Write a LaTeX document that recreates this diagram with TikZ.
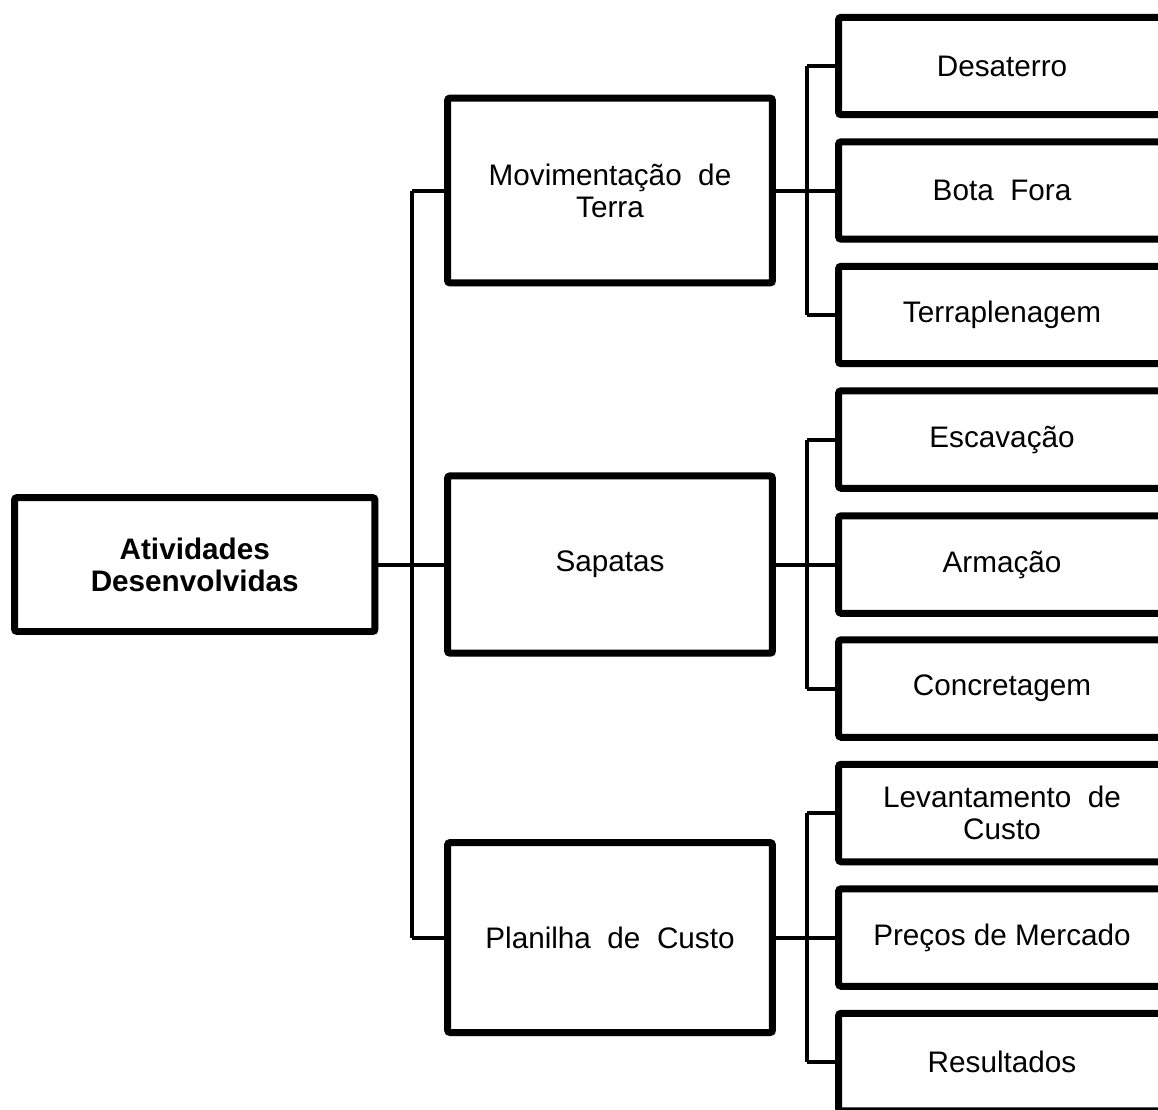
\documentclass[tikz,border=0pt]{standalone}
\usepackage{fontspec}
\setmainfont{Liberation Sans}
\usetikzlibrary{shadows}

\begin{document}
\begin{tikzpicture}[x=0.02cm, y=-0.02cm,
    box/.style={draw, line width=0.14cm, align=center, fill=white, inner sep=0pt, rounded corners=1.5pt,
                font=\fontsize{16.9}{18.3}\selectfont,
                drop shadow={opacity=0.25, shadow xshift=0.07cm, shadow yshift=-0.07cm}},
    root/.style={box, minimum width=7.21cm, minimum height=2.68cm, font=\fontsize{16.9}{18.3}\selectfont\bfseries},
    mid/.style={box, minimum width=6.5cm},
    leaf/.style={box, minimum width=6.54cm, minimum height=1.95cm},
    link/.style={line width=0.08cm}]
    \useasboundingbox (0,0) rectangle (1158,1109);
    \clip (0,0) rectangle (1158,1109);

    \coordinate (T) at (412,0);
    \coordinate (S) at (807,0);

    \draw[link] (T |- 0,190.5) -- (T |- 0,937.5);
    \draw[link] (S |- 0,66)    -- (S |- 0,315);
    \draw[link] (S |- 0,439.5) -- (S |- 0,688.5);
    \draw[link] (S |- 0,813)   -- (S |- 0,1062);

    \node[root]                      (R)  at (194.75, 564.5)  {Atividades \\ Desenvolvidas};

    \node[mid, minimum height=3.7cm] (M1) at (610, 190.5)     {Movimentação~~de \\ Terra};
    \node[mid, minimum height=3.55cm] (M2) at (610, 564.5)    {Sapatas};
    \node[mid, minimum height=3.8cm] (M3) at (610, 937.5)     {Planilha~~de~~Custo};

    \node[leaf]  (A1)  at (1002,   66.0)   {Desaterro};
    \node[leaf]  (B1)  at (1002,  190.5)   {Bota~~Fora};
    \node[leaf]  (C1)  at (1002,  315.0)   {Terraplenagem};
    \node[leaf]  (A2)  at (1002,  439.5)   {Escavação};
    \node[leaf]  (B2)  at (1002,  564.5)   {Armação};
    \node[leaf]  (C2)  at (1002,  688.5)   {Concretagem};
    \node[leaf]  (A3)  at (1002,  813.0)   {Levantamento~~de \\ Custo};
    \node[leaf]  (B3)  at (1002,  937.5)   {Preços~de~Mercado};
    \node[leaf]  (C3)  at (1002, 1062.0)   {Resultados};

    \draw[link] (R)  -- (M2);

    \draw[link] (M1.west) -- (M1.west -| T);
    \draw[link] (M3.west) -- (M3.west -| T);

    \draw[link] (M1) -- (B1);
    \draw[link] (M2) -- (B2);
    \draw[link] (M3) -- (B3);

    \draw[link] (A1.west) -- (A1.west -| S);
    \draw[link] (C1.west) -- (C1.west -| S);
    \draw[link] (A2.west) -- (A2.west -| S);
    \draw[link] (C2.west) -- (C2.west -| S);
    \draw[link] (A3.west) -- (A3.west -| S);
    \draw[link] (C3.west) -- (C3.west -| S);
\end{tikzpicture}
\end{document}
